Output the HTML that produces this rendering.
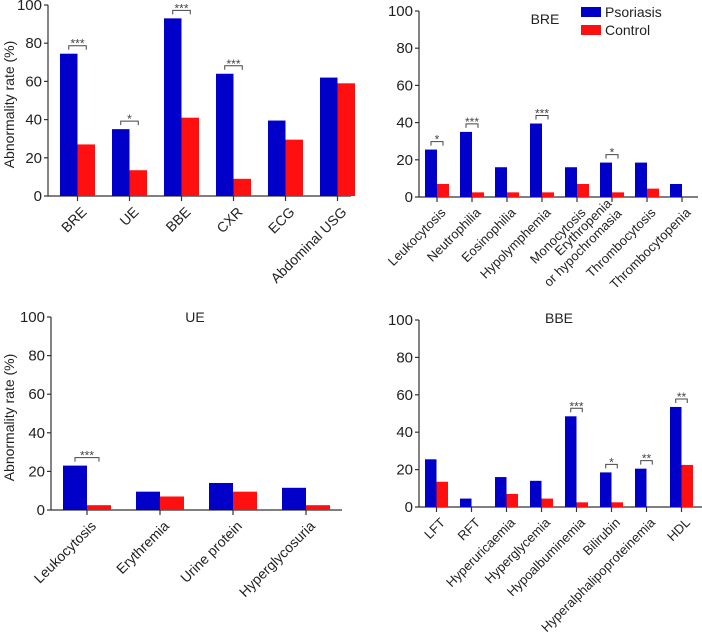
<!DOCTYPE html>
<html><head><meta charset="utf-8">
<style>
body{margin:0;background:#fff;}
svg{display:block;font-family:"Liberation Sans",Arial,sans-serif;}
</style></head>
<body>
<svg id="fig" width="702" height="635" viewBox="0 0 702 635"></svg>
<script>
// Panel A: overall
const catsA = ["BRE","UE","BBE","CXR","ECG","Abdominal USG"];
const psoA = [74.5,35,93,64,39.5,62];
const ctlA = [27,13.5,41,9,29.5,59];
const sigA = ["***","*","***","***","",""];
// Panel B: BRE
const catsB = ["Leukocytosis","Neutrophilia","Eosinophilia","Hypolymphemia","Monocytosis","Erythropenia|or hypochromasia","Thrombocytosis","Thrombocytopenia"];
const psoB = [25.5,35,16,39.5,16,18.5,18.5,7];
const ctlB = [7,2.5,2.5,2.5,7,2.5,4.5,0];
const sigB = ["*","***","","***","","*","",""];
// Panel C: UE
const catsC = ["Leukocytosis","Erythremia","Urine protein","Hyperglycosuria"];
const psoC = [23,9.5,14,11.5];
const ctlC = [2.5,7,9.5,2.5];
const sigC = ["***","","",""];
// Panel D: BBE
const catsD = ["LFT","RFT","Hyperuricaemia","Hyperglycemia","Hypoalbuminemia","Bilirubin","Hyperalphalipoproteinemia","HDL"];
const psoD = [25.5,4.5,16,14,48.5,18.5,20.5,53.5];
const ctlD = [13.5,0,7,4.5,2.5,2.5,0,22.5];
const sigD = ["","","","","***","*","**","**"];
const yTicks = [0,20,40,60,80,100];

const NS = "http://www.w3.org/2000/svg";
const svg = document.getElementById("fig");
function mk(tag, attrs, parent){
  const e = document.createElementNS(NS, tag);
  for (const k in attrs) e.setAttribute(k, attrs[k]);
  (parent||svg).appendChild(e);
  return e;
}

function panel(o){
  const g = mk("g", {});
  
  
  const y = v => o.y0 - v/100*(o.y0 - o.y100);
  const bx = i => o.first + i*o.step;
  const ya = mk("line", {x1:o.ax, y1:o.y100, x2:o.ax, y2:o.y0, stroke:"#333", "stroke-width":1.2}, g);
  
  
  yTicks.forEach(t => {
    mk("line", {x1:o.ax-4, y1:y(t), x2:o.ax, y2:y(t), stroke:"#333", "stroke-width":1.2}, g);
    const tl = mk("text", {x:o.ax-6, y:y(t)+5, "text-anchor":"end", "font-size":o.tfs, fill:"#222"}, g);
    tl.textContent = t;
    
    
  });
  const xa = mk("line", {x1:o.ax, y1:o.y0, x2:o.xend, y2:o.y0, stroke:"#333", "stroke-width":1.2}, g);
  
  
  if (o.ytitle){
    const cy = (o.y0+o.y100)/2 + 4;
    const yt = mk("text", {x:14, y:cy, transform:`rotate(-90 14 ${cy})`, "text-anchor":"middle", "font-size":14, fill:"#222"}, g);
    yt.textContent = "Abnormality rate (%)";
    
    
  }
  if (o.title){
    const tt = mk("text", {x:o.tx, y:o.ty, "text-anchor":"middle", "font-size":14, fill:"#222"}, g);
    tt.textContent = o.title;
    
    
  }
  o.cats.forEach((c, i) => {
    const x = bx(i), w = o.bw, cx = x + w;
    const b1 = mk("rect", {x:x, y:y(o.pso[i]), width:w, height:o.y0-y(o.pso[i]), fill:"#0000c8"}, g);
    
    
    const b2 = mk("rect", {x:x+w, y:y(o.ctl[i]), width:w, height:o.y0-y(o.ctl[i]), fill:"#ff1010"}, g);
    
    
    mk("line", {x1:cx, y1:o.y0, x2:cx, y2:o.y0+5, stroke:"#333", "stroke-width":1.2}, g);
    const lx = cx + 3, ly = o.y0 + 10;
    const lab = mk("text", {x:lx, y:ly, transform:`rotate(-45 ${lx} ${ly})`, "text-anchor":"end", "font-size":o.lfs, fill:"#222"}, g);
    
    
    const parts = c.split("|");
    if (parts.length === 1){ lab.setAttribute("dy", "0.7em"); lab.textContent = c; }
    else {
      parts.forEach((p, k) => {
        const ts = mk("tspan", {x:lx, dy: k===0 ? "-0.3em" : "1.1em"}, lab);
        ts.textContent = p;
      });
    }
    if (o.sig[i]){
      const top = Math.max(o.pso[i], o.ctl[i]);
      const by = y(top) - 8;
      const x1 = x + w/2, x2 = x + 1.5*w;
      const br = mk("path", {d:`M${x1} ${by+4}V${by}H${x2}V${by+4}`, fill:"none", stroke:"#444", "stroke-width":1}, g);
      
      
      const st = mk("text", {x:(x1+x2)/2, y:by+2, "text-anchor":"middle", "font-size":12, fill:"#444"}, g);
      st.textContent = o.sig[i];
      
      
    }
  });
}

panel({name:"panel-overall", cats:catsA, pso:psoA, ctl:ctlA, sig:sigA, ax:48, y0:196, y100:5, xend:351, first:60, step:52, bw:17.5, tfs:15, lfs:14, ytitle:true});
panel({name:"panel-bre", cats:catsB, pso:psoB, ctl:ctlB, sig:sigB, ax:419, y0:197, y100:11, xend:698, first:425, step:35, bw:12, tfs:15, lfs:13});
panel({name:"panel-ue", cats:catsC, pso:psoC, ctl:ctlC, sig:sigC, ax:51, y0:510, y100:317, xend:342, first:63, step:73, bw:24, tfs:15, lfs:14, ytitle:true, title:"UE", tx:195, ty:322});
panel({name:"panel-bbe", cats:catsD, pso:psoD, ctl:ctlD, sig:sigD, ax:419, y0:507, y100:320, xend:702, first:425, step:35, bw:11.5, tfs:15, lfs:13, title:"BBE", tx:559, ty:323});

const lg = mk("g", {});


const lt = mk("text", {x:545, y:24, "text-anchor":"middle", "font-size":14, fill:"#222"}, lg);
lt.textContent = "BRE";


const r1 = mk("rect", {x:581, y:7, width:20, height:10, fill:"#0000c8"}, lg);


const t1 = mk("text", {x:605, y:17, "font-size":14, fill:"#222"}, lg);
t1.textContent = "Psoriasis";


const r2 = mk("rect", {x:581, y:25, width:20, height:10, fill:"#ff1010"}, lg);


const t2 = mk("text", {x:605, y:35, "font-size":14, fill:"#222"}, lg);
t2.textContent = "Control";


</script>
</body></html>
